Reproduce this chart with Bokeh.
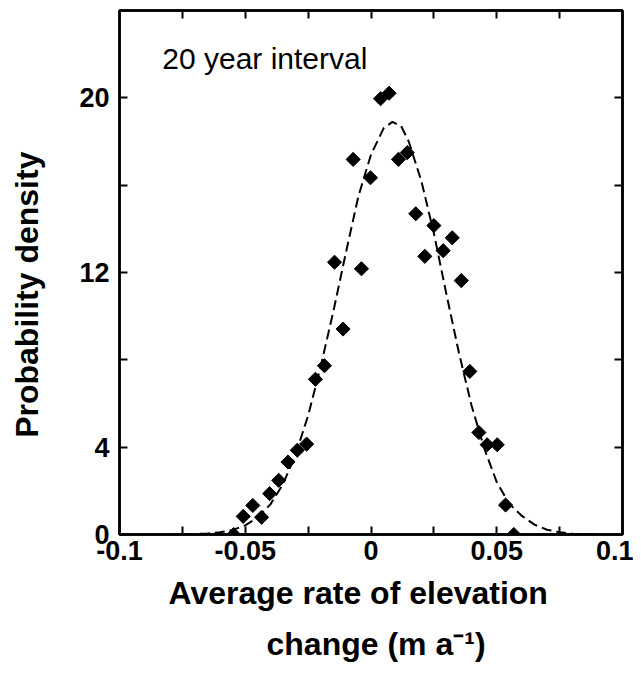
from bokeh.plotting import figure
from bokeh.models import Range1d, FixedTicker, Title, Label, LinearAxis
from bokeh.embed import file_html
from bokeh.resources import INLINE
import numpy as np

# Observed probability density (diamonds)
rate = [-0.0546, -0.0508, -0.0470, -0.0435, -0.0403, -0.0367, -0.0330, -0.0293,
        -0.0256, -0.0221, -0.0185, -0.0145, -0.0111, -0.0071, -0.0038, -0.0002,
        0.0038, 0.0072, 0.0109, 0.0144, 0.0178, 0.0214, 0.0250, 0.0287,
        0.0323, 0.0359, 0.0393, 0.0429, 0.0462, 0.0502, 0.0535, 0.0568]
density = [0.0, 0.83, 1.33, 0.79, 1.87, 2.48, 3.32, 3.86,
           4.14, 7.11, 7.73, 12.47, 9.41, 17.18, 12.17, 16.34,
           19.96, 20.21, 17.18, 17.49, 14.69, 12.74, 14.15, 13.0,
           13.59, 11.63, 7.47, 4.67, 4.11, 4.11, 1.35, 0.0]

# Fitted curve (dashed)
fit_x = [-0.08, -0.07, -0.065, -0.06, -0.055, -0.05, -0.045, -0.04, -0.035, -0.03,
         -0.025, -0.02, -0.015, -0.01, -0.005, 0.0, 0.005, 0.0085, 0.012, 0.015,
         0.02, 0.025, 0.03, 0.035, 0.04, 0.045, 0.05, 0.055, 0.06, 0.065,
         0.07, 0.075, 0.08, 0.09]
fit_y = [0.0, 0.02, 0.05, 0.1, 0.21, 0.42, 0.78, 1.38, 2.3, 3.65,
         5.45, 7.7, 10.2, 12.9, 15.5, 17.4, 18.6, 18.9, 18.7, 18.0,
         16.2, 13.8, 11.0, 8.3, 5.9, 3.95, 2.4, 1.4, 0.85, 0.45,
         0.22, 0.1, 0.04, 0.0]

x_ticks = [-0.1, -0.05, 0.0, 0.05, 0.1]
x_tick_labels = ["-0.1", "-0.05", "0", "0.05", "0.1"]
x_minor = [-0.075, -0.025, 0.025, 0.075]
x_inner = [-0.075, -0.05, -0.025, 0.0, 0.025, 0.05, 0.075]
y_ticks = [0, 4, 12, 20]
y_minor = [8, 16]
y_inner = [4, 8, 12, 16, 20]

FONT = "Liberation Sans"

p = figure(width=633, height=675, output_backend="svg", toolbar_location=None,
           x_range=Range1d(-0.1, 0.1), y_range=Range1d(0, 24),
           min_border_left=119, min_border_right=11, min_border_top=10,
           min_border_bottom=141)
p.grid.visible = False
p.outline_line_color = "black"
p.outline_line_width = 2.5
p.background_fill_color = "white"
p.border_fill_color = "white"

def style_axis(ax, ticks, minor, size="27px"):
    ax.ticker = FixedTicker(ticks=ticks, minor_ticks=minor)
    ax.major_tick_in = 8
    ax.major_tick_out = 0
    ax.minor_tick_in = 8
    ax.minor_tick_out = 0
    ax.major_tick_line_width = 2
    ax.minor_tick_line_width = 2
    ax.axis_line_width = 2.5
    ax.major_label_text_font = FONT
    ax.major_label_text_font_style = "bold"
    ax.major_label_text_font_size = size
    ax.major_label_text_color = "black"

style_axis(p.xaxis[0], x_ticks, x_minor)
p.xaxis[0].major_label_overrides = dict(zip(x_ticks, x_tick_labels))
p.xaxis[0].major_label_standoff = 6
style_axis(p.yaxis[0], y_ticks, y_minor)
p.yaxis[0].major_label_standoff = 10

# y-axis title; trailing no-break spaces push the visible words downwards
yax = p.yaxis[0]
yax.axis_label = "Probability density" + "\u00a0" * 5
yax.axis_label_standoff = 31
yax.axis_label_text_font = FONT
yax.axis_label_text_font_style = "bold"
yax.axis_label_text_font_size = "32px"
yax.axis_label_text_color = "black"

# top and right axes: ticks only (drawn as minor ticks, so no labels)
top = LinearAxis()
style_axis(top, [], x_inner)
top.major_label_standoff = 0
p.add_layout(top, "above")
right = LinearAxis()
style_axis(right, [], y_inner)
right.major_label_standoff = 0
p.add_layout(right, "right")

p.line(fit_x, fit_y, line_dash="10 5", line_width=2, color="black")
p.scatter(rate, density, marker="square", angle=np.pi / 4, size=10,
          fill_color="black", line_color="black")

p.add_layout(Label(x=-0.083, y=21.8, text="20 year interval", text_font=FONT,
                   text_font_size="30px", text_baseline="alphabetic",
                   text_color="black"))

xl1 = Title(text="Average rate of elevation", align="left", offset=49,
            text_font=FONT, text_font_style="bold", text_font_size="32px",
            text_color="black", standoff=20)
xl2 = Title(text="change (m a\u207b\u00b9)", align="left", offset=147,
            text_font=FONT, text_font_style="bold", text_font_size="32px",
            text_color="black", standoff=6)
p.add_layout(xl1, "below")
p.add_layout(xl2, "below")

open("out.html", "w").write(file_html(p, INLINE))
